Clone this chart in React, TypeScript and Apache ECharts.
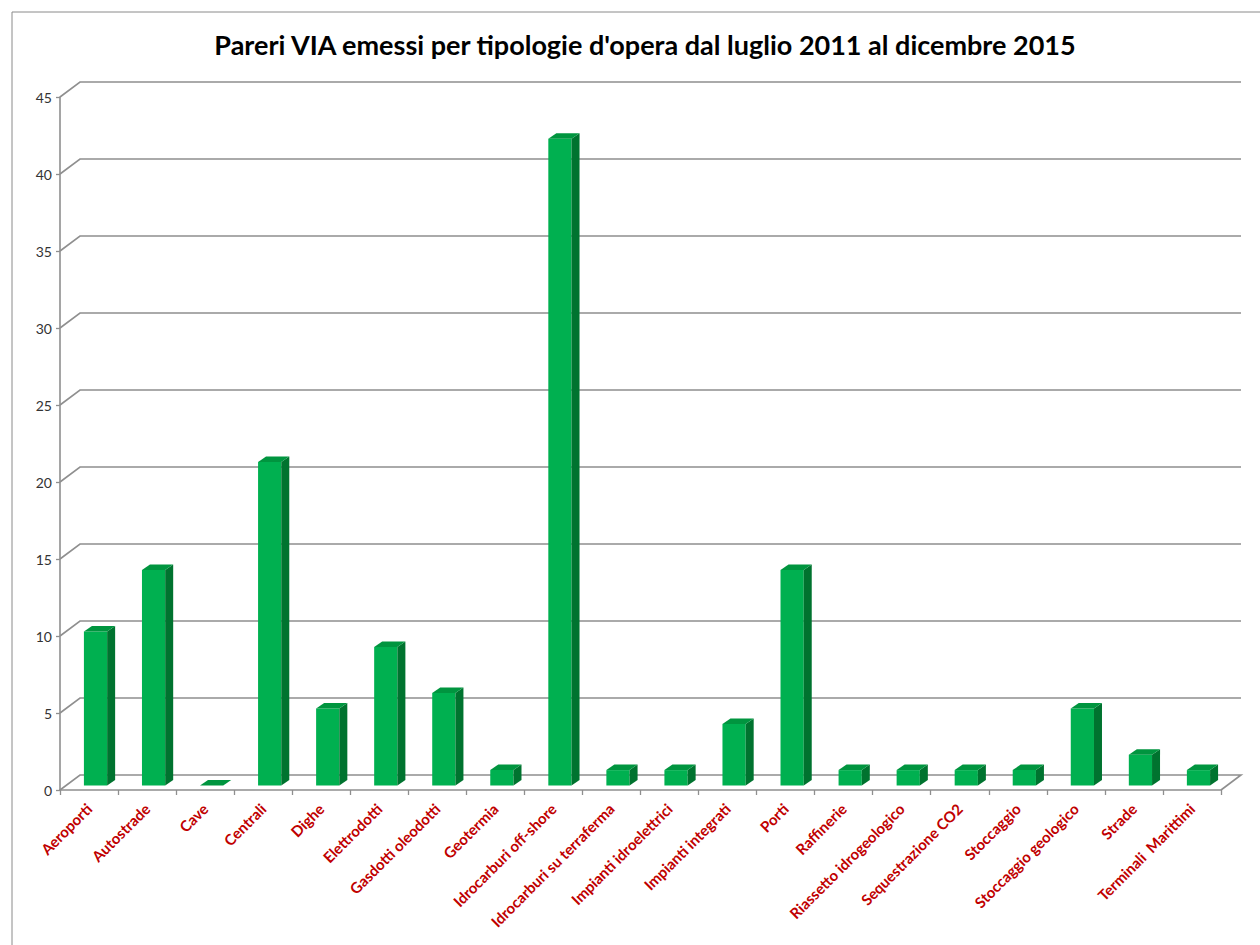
import React, { useEffect, useRef } from "react";
import * as echarts from "echarts";

const title = "Pareri VIA emessi per tipologie d'opera dal luglio 2011 al dicembre 2015";

const categories = [
  "Aeroporti",
  "Autostrade",
  "Cave",
  "Centrali",
  "Dighe",
  "Elettrodotti",
  "Gasdotti oleodotti",
  "Geotermia",
  "Idrocarburi off-shore",
  "Idrocarburi su terraferma",
  "Impianti idroelettrici",
  "Impianti integrati",
  "Porti",
  "Raffinerie",
  "Riassetto idrogeologico",
  "Sequestrazione CO2",
  "Stoccaggio",
  "Stoccaggio geologico",
  "Strade",
  "Terminali  Marittimi",
];

const values = [10, 14, 0, 21, 5, 9, 6, 1, 42, 1, 1, 4, 14, 1, 1, 1, 1, 5, 2, 1];

const yTicks = [0, 5, 10, 15, 20, 25, 30, 35, 40, 45];

const WALL_DX = 20;
const WALL_DY = -15;
const GRID_COLOR = "#8f8f8f";

export default function App() {
  const ref = useRef<HTMLDivElement>(null);

  useEffect(() => {
    if (!ref.current) return;
    const chart = echarts.init(ref.current, undefined, { renderer: "svg" });

    const gridRender = (params: any, api: any) => {
      const v = api.value(1);
      const cs = params.coordSys;
      const y = api.coord([0, v])[1];
      const pts: number[][] = [
        [cs.x, y],
        [cs.x + WALL_DX, y + WALL_DY],
        [cs.x + cs.width + WALL_DX, y + WALL_DY],
      ];
      if (v === 0) pts.push([cs.x + cs.width, y]);
      return {
        type: "polyline",
        shape: { points: pts },
        style: { stroke: GRID_COLOR, lineWidth: 1.6, fill: "none" },
      };
    };

    const barRender = (params: any, api: any) => {
      const i = api.value(0);
      const v = api.value(1);
      const base = api.coord([i, 0]);
      const top = api.coord([i, v]);
      const band = api.size([1, 0])[0];
      const bw = band * 0.4;
      const dx = 8;
      const dy = -5.5;
      const cx = base[0] + 6.5;
      const x0 = cx - bw / 2;
      const x1 = x0 + bw;
      const yb = base[1] - 4.5;
      const yt = top[1] - 4.5;
      const children: any[] = [];
      if (yb - yt > 0.5) {
        children.push({
          type: "rect",
          shape: { x: x0, y: yt, width: bw, height: yb - yt },
          style: { fill: "#00B050" },
        });
        children.push({
          type: "polygon",
          shape: { points: [[x1, yb], [x1 + dx, yb + dy], [x1 + dx, yt + dy], [x1, yt]] },
          style: { fill: "#00732F" },
        });
      }
      children.push({
        type: "polygon",
        shape: { points: [[x0, yt], [x0 + dx, yt + dy], [x1 + dx, yt + dy], [x1, yt]] },
        style: { fill: "#00953F" },
      });
      return { type: "group", children };
    };

    chart.setOption({
      animation: false,
      backgroundColor: "#ffffff",
      title: {
        text: title,
        left: 640,
        textAlign: "center",
        top: 26,
        textStyle: {
          fontFamily: "Lato",
          fontWeight: "bold",
          fontSize: 27,
          color: "#000000",
        },
      },
      graphic: [
        {
          type: "rect",
          left: 9.5,
          top: 9.5,
          shape: { x: 0, y: 0, width: 1300, height: 1000 },
          style: { fill: "none", stroke: "#8a8a8a", lineWidth: 1 },
          silent: true,
        },
      ],
      grid: { left: 60, right: 39, top: 97, bottom: 155, containLabel: false },
      xAxis: {
        type: "category",
        data: categories,
        axisLine: { show: true, lineStyle: { color: GRID_COLOR, width: 1.6 } },
        axisTick: { show: true, length: 5, lineStyle: { color: GRID_COLOR, width: 1.3 } },
        axisLabel: {
          rotate: 45,
          interval: 0,
          margin: 16,
          color: "#C00000",
          fontFamily: "Lato",
          fontWeight: "bold",
          fontSize: 15,
        },
        splitLine: { show: false },
      },
      yAxis: {
        type: "value",
        min: yTicks[0],
        max: yTicks[yTicks.length - 1],
        interval: yTicks[1] - yTicks[0],
        axisLine: { show: true, lineStyle: { color: GRID_COLOR, width: 1.6 } },
        axisTick: { show: true, length: 4, lineStyle: { color: GRID_COLOR, width: 1.3 } },
        axisLabel: {
          margin: 8,
          color: "#333333",
          fontFamily: "Lato",
          fontSize: 14,
        },
        splitLine: { show: false },
      },
      series: [
        {
          type: "custom",
          name: "grid",
          renderItem: gridRender,
          data: yTicks.map((t) => [0, t]),
          encode: { x: 0, y: 1 },
          clip: false,
          silent: true,
          z: 1,
        },
        {
          type: "custom",
          name: "Pareri",
          renderItem: barRender,
          data: values.map((v, i) => [i, v]),
          encode: { x: 0, y: 1 },
          clip: false,
          z: 3,
        },
      ],
    });

    return () => chart.dispose();
  }, []);

  return (
    <div
      ref={ref}
      style={{ position: "fixed", left: 0, top: 0, width: 1260, height: 945, background: "#fff" }}
    />
  );
}
